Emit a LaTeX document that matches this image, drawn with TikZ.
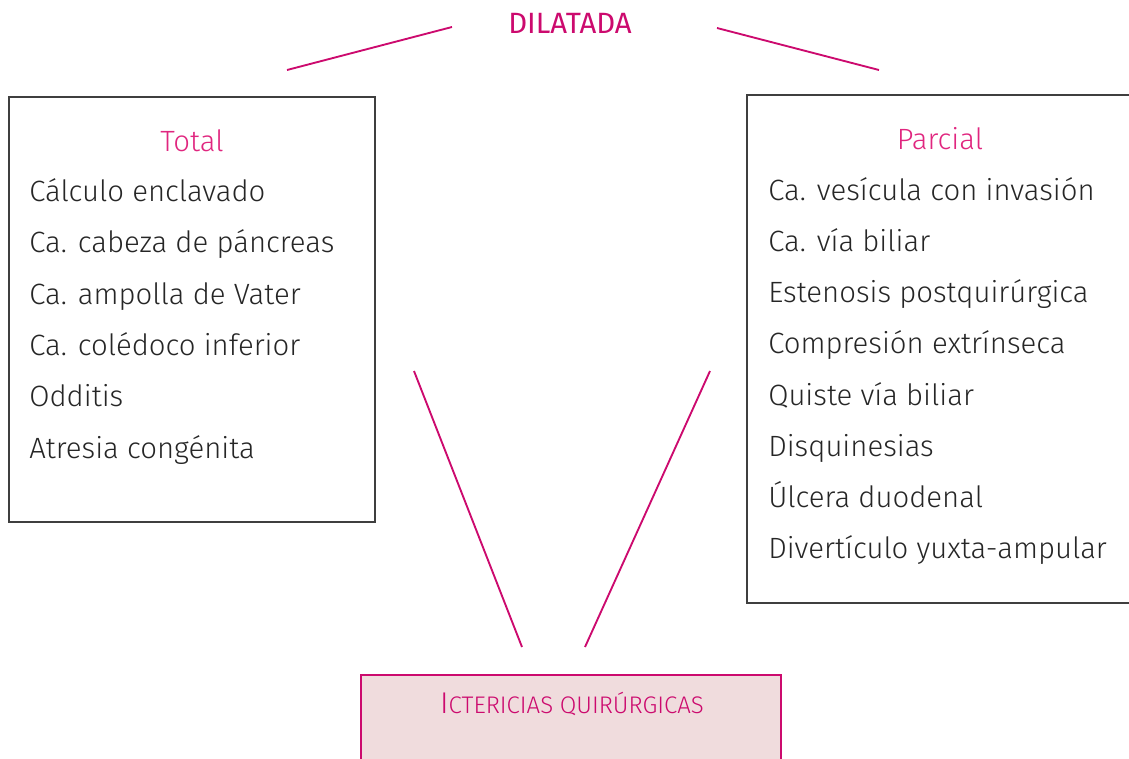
\documentclass[tikz,border=0pt]{standalone}
\usepackage{fontspec}
\setmainfont{Fira Sans Light}
\newfontfamily\titlefont{Fira Sans}
\usepackage{tikz}
\usepackage{xcolor}

\definecolor{rosa}{HTML}{CC0A6E}
\definecolor{rosaclaro}{HTML}{E0267F}
\definecolor{fondorosa}{HTML}{F0DCDD}
\definecolor{marco}{HTML}{3F3F3F}

\begin{document}
\begin{tikzpicture}[
    x=0.75pt, y=-0.75pt,
    every node/.style={inner sep=0pt, anchor=base, font=\fontsize{22}{26}\selectfont, text=black!85},
    item/.style={anchor=base west},
    cabecera/.style={text=rosaclaro},
    caja/.style={draw=marco, line width=1.1pt},
    raya/.style={draw=rosa, line width=1.4pt}
]
  \clip (0,0) rectangle (1129,758);

  % Top
  \node[text=rosa, font=\titlefont\fontsize{22}{26}\selectfont] (dilatada) at (570,33) {DILATADA};
  \coordinate (a1) at (287,70);
  \coordinate (a2) at (452,27);
  \coordinate (b1) at (717,28);
  \coordinate (b2) at (879,70);
  \draw[raya] (a1)--(a2);
  \draw[raya] (b1)--(b2);

  % Left box
  \draw[caja] (9,97) rectangle (375,522);
  \node[cabecera] (total) at (192,151) {Total};
  \node[item] (t1) at (29,201) {Cálculo enclavado};
  \node[item] (t2) at (29,252) {Ca. cabeza de páncreas};
  \node[item] (t3) at (29,304) {Ca. ampolla de Vater};
  \node[item] (t4) at (29,355) {Ca. colédoco inferior};
  \node[item] (t5) at (29,406) {Odditis};
  \node[item] (t6) at (29,458) {Atresia congénita};

  % Right box
  \draw[caja] (747,95) rectangle (1145,603);
  \node[cabecera] (parcial) at (940,149) {Parcial};
  \node[item] (p1) at (768,200) {Ca. vesícula con invasión};
  \node[item] (p2) at (768,251) {Ca. vía biliar};
  \node[item] (p3) at (768,302) {Estenosis postquirúrgica};
  \node[item] (p4) at (768,353) {Compresión extrínseca};
  \node[item] (p5) at (768,405) {Quiste vía biliar};
  \node[item] (p6) at (768,456) {Disquinesias};
  \node[item] (p7) at (768,507) {Úlcera duodenal};
  \node[item] (p8) at (768,558) {Divertículo yuxta-ampular};

  % Bottom
  \coordinate (c1) at (414,371);
  \coordinate (c2) at (522,647);
  \coordinate (d1) at (710,371);
  \coordinate (d2) at (585,647);
  \draw[raya] (c1)--(c2);
  \draw[raya] (d1)--(d2);
  \draw[draw=rosa, fill=fondorosa, line width=1.1pt] (361,675) rectangle (781,780);
  \node[text=rosa] (icter) at (572,713)
    {\fontsize{22.5}{26}\selectfont I\fontsize{18}{21}\selectfont CTERICIAS QUIRÚRGICAS};
\end{tikzpicture}
\end{document}
